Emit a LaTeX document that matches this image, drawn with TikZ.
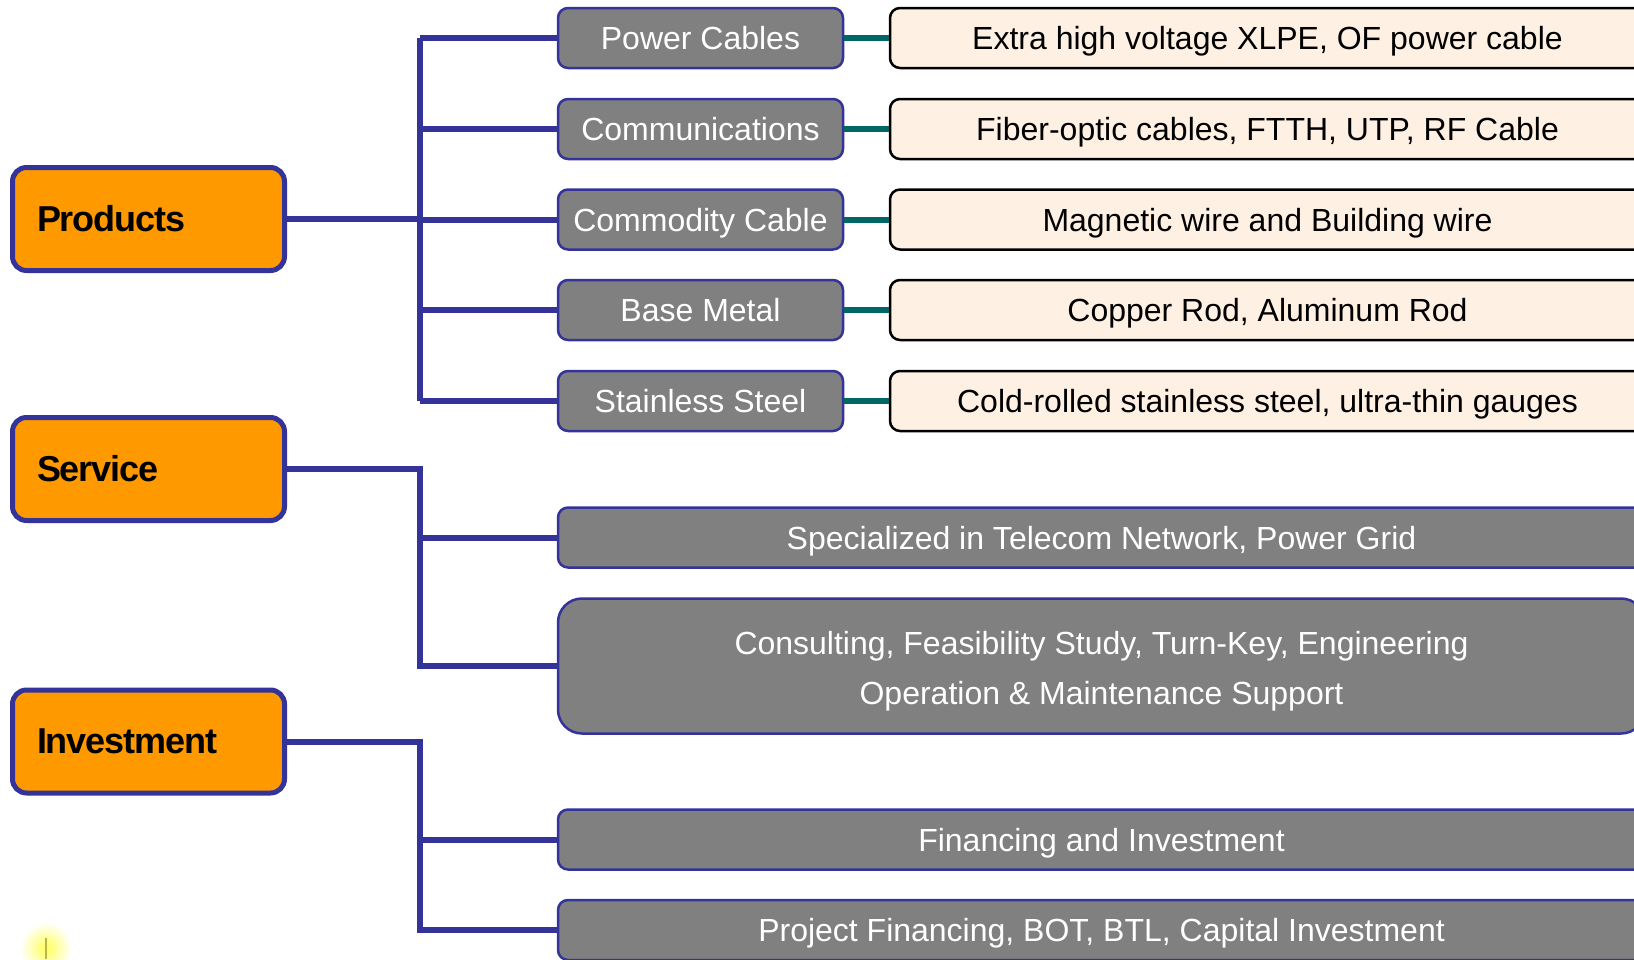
\documentclass[tikz,border=0pt]{standalone}
\usepackage{fontspec}
\setmainfont{Liberation Sans}
\newfontfamily\catfont[LetterSpace=-3]{Liberation Sans}
\usepackage{xcolor}
\usepackage{tikz}
\definecolor{navyline}{HTML}{333399}
\definecolor{catorange}{HTML}{FF9900}
\definecolor{boxgrey}{HTML}{808080}
\definecolor{peach}{HTML}{FEF0E3}
\definecolor{tealline}{HTML}{006666}
\tikzset{
  catbox/.style={draw=navyline, line width=2.5pt, fill=catorange, rounded corners=7pt,
    minimum height=51.5pt, text width=111.5pt, inner xsep=12.25pt, align=left,
    font=\catfont\fontsize{18}{21}\selectfont\bfseries},
  midbox/.style={draw=navyline, line width=1.25pt, fill=boxgrey, rounded corners=5pt,
    minimum width=142.5pt, minimum height=30pt, inner sep=0pt, text=white,
    text height=12pt, text depth=0.3pt, font=\fontsize{16}{19}\selectfont},
  descbox/.style={draw=black, line width=1.25pt, fill=peach, rounded corners=5pt,
    minimum width=377.5pt, minimum height=30pt, inner sep=0pt,
    text height=12pt, text depth=0.3pt, font=\fontsize{16}{19}\selectfont},
  widebox/.style={midbox, minimum width=543.5pt},
  branch/.style={draw=navyline, line width=3pt},
  link/.style={draw=tealline, line width=3pt}
}

\begin{document}
\begin{tikzpicture}[x=0.5pt,y=-0.5pt]
			\clip (0,0) rectangle (1634,959);
			% faint glow in the corner
			\shade[inner color=yellow!65, outer color=white] (46,948) circle (26);
			\draw[olive!60, line width=0.6pt] (46,938) -- (46,959);

			% The three groups
			\node[catbox] (prod) at (148.5,219) {Products};
			\node[catbox] (serv) at (148.5,469) {Service};
			\node[catbox] (inv) at (148.5,741.5) {Investment};

			% Products
			\node[midbox] (pc) at (700.5,38) {Power Cables};
			\node[midbox] (com) at (700.5,129) {Communications};
			\node[midbox] (cc) at (700.5,219.5) {Commodity Cable};
			\node[midbox] (bm) at (700.5,310) {Base Metal};
			\node[midbox] (ss) at (700.5,401) {Stainless Steel};

			\node[descbox] (pcd) at (1267.5,38) {Extra high voltage XLPE, OF power cable};
			\node[descbox] (comd) at (1267.5,129) {Fiber-optic cables, FTTH, UTP, RF Cable};
			\node[descbox] (ccd) at (1267.5,219.5) {Magnetic wire and Building wire};
			\node[descbox] (bmd) at (1267.5,310) {Copper Rod, Aluminum Rod};
			\node[descbox] (ssd) at (1267.5,401) {Cold-rolled stainless steel, ultra-thin gauges};

			% Service and Investment
			\node[widebox] (spec) at (1101.5,537.5) {Specialized in Telecom Network, Power Grid};
			\node[widebox, minimum height=67.5pt, rounded corners=12pt] (cons) at (1101.5,666) {};
			\node[text=white, align=center, inner sep=0pt, font=\fontsize{16}{25}\selectfont]
				(consl) at ([yshift=-2.5pt]cons.center)
				{Consulting, Feasibility Study, Turn-Key, Engineering\\Operation \& Maintenance Support};
			\node[widebox] (fin) at (1101.5,839.5) {Financing and Investment};
			\node[widebox] (proj) at (1101.5,930) {Project Financing, BOT, BTL, Capital Investment};

			% The trunks
			\coordinate (trunk) at (420,0);
			\draw[branch] (prod.east) -- (prod.east -| trunk);
			\draw[branch] (pc.west -| trunk) -- (ss.west -| trunk);
			\foreach \n in {pc,com,cc,bm,ss}
				\draw[branch] (\n.west -| trunk) -- (\n.west);
			\foreach \n in {pc,com,cc,bm,ss}
				\draw[link] (\n.east) -- (\n d.west);

			\draw[branch] (serv.east) -| (cons.west -| trunk) -- (cons.west);
			\draw[branch] (spec.west -| trunk) -- (spec.west);

			\draw[branch] (inv.east) -| (proj.west -| trunk) -- (proj.west);
			\draw[branch] (fin.west -| trunk) -- (fin.west);
		\end{tikzpicture}
\end{document}
